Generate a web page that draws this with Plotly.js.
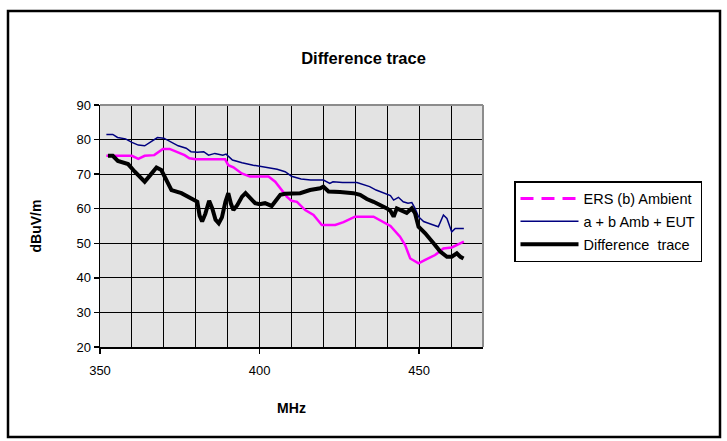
<!DOCTYPE html>
<html><head><meta charset="utf-8">
<script src="https://cdn.plot.ly/plotly-3.0.1.min.js"></script>
<style>html,body{margin:0;padding:0;background:#fff}#chart{width:727px;height:441px}</style>
</head><body><div id="chart"></div>
<script>
// Series 1: ERS (b) Ambient
const ersX = [352, 360, 362, 364, 367, 369.7, 371.8, 374.5, 376.5, 378, 380, 389.2, 390.2, 391.8, 394.4, 397, 402.8, 404.9, 407, 408.5, 410, 411.7, 414.3, 416.9, 419.5, 423.7, 426.3, 429.9, 435.7, 438.3, 441, 444, 445.6, 447.2, 449.8, 451.9, 455, 457.6, 460.2, 464];
const ersY = [75.3, 75.3, 74.4, 75.3, 75.5, 77.3, 77.3, 76.3, 75.5, 74.6, 74.3, 74.3, 72.6, 72, 70.2, 69.3, 69.3, 67.8, 65.4, 63.5, 62.3, 62, 59.6, 58.2, 55.3, 55.3, 56.1, 57.7, 57.7, 56.4, 55, 51.9, 49.5, 45.6, 44.2, 45.2, 46.6, 48.5, 48.8, 50.5];

// Series 2: a + b Amb + EUT
const ambX = [352, 354, 355.5, 358, 360, 362, 364, 366, 368, 370, 372, 374.5, 377, 378.5, 380.5, 382.5, 384, 386, 388.5, 389.5, 391.5, 394.5, 398, 401.5, 405.5, 408, 410, 413, 416, 420, 422, 423, 426, 430.5, 432.5, 434.5, 436.5, 438.8, 441, 442, 443.5, 445, 446.5, 447.7, 448.7, 449.8, 451.4, 452.9, 455, 456, 457.6, 458.7, 460.2, 461.3, 464];
const ambY = [81.5, 81.5, 80.6, 80.2, 79.2, 78.4, 78.2, 79.4, 80.6, 80.4, 79.4, 78.2, 77.5, 76.5, 76.3, 76.5, 75.5, 76, 75.5, 75.8, 74.1, 73.3, 72.6, 72, 71.4, 70.7, 69.4, 68.6, 68.3, 68.3, 67.3, 67.8, 67.6, 67.6, 66.9, 66.4, 65.4, 64.6, 63.8, 62.5, 63.3, 62, 61.6, 61.8, 60.1, 57.7, 56.3, 55.8, 55, 54.8, 58.2, 57.2, 53.3, 54.3, 54.3];

// Series 3: Difference trace
const difX = [352.5, 354, 355.6, 357.2, 358.8, 360.9, 362.5, 364, 366, 367.7, 369.2, 370.8, 372.4, 375.5, 379.2, 380.5, 381.2, 382, 383, 384.2, 385.2, 386.2, 387.2, 388.2, 389.3, 390.2, 391, 391.8, 393, 394.5, 395.6, 397, 398.6, 400, 401.7, 403.8, 405.2, 406.5, 408, 411, 412.7, 415.8, 419, 420, 421.6, 425.2, 429.4, 431.5, 433.6, 435.7, 437.8, 439.9, 441, 442, 443, 444.5, 446.1, 447.7, 448.7, 449.8, 451.9, 454.5, 456.6, 458.7, 460.2, 461.8, 462.9, 463.9];
const difY = [75.3, 75.3, 73.8, 73.4, 72.9, 70.7, 69.3, 67.8, 70, 71.9, 71.2, 68.3, 65.4, 64.5, 62.5, 62, 58, 56.3, 58.5, 62.3, 60, 56.8, 55.8, 57.5, 62, 64.5, 61.5, 59.6, 61, 63.5, 64.5, 63, 61.6, 61.3, 61.6, 60.8, 62.5, 64, 64.3, 64.5, 64.5, 65.4, 65.9, 66.4, 65, 64.8, 64.5, 64, 62.8, 62, 61.1, 60.1, 59.4, 57.7, 60.1, 59.6, 58.8, 60.1, 58.7, 54.8, 52.9, 50, 47.6, 46.1, 46.1, 47.1, 46.1, 45.6];

const names = ['ERS (b) Ambient', 'a + b Amb + EUT', 'Difference \u00a0trace'];
const xTitle = 'MHz';
const yTitle = 'dBuV/m';
const chartTitle = 'Difference trace';

const traces = [
  {x: ersX, y: ersY, mode: 'lines', line: {color: '#ff00ff', width: 2.5}, showlegend: false, legendgroup: 'a', hoverinfo: 'skip'},
  {x: [null], y: [null], mode: 'lines', name: names[0], line: {color: '#ff00ff', width: 3, dash: '13px,8px'}, legendgroup: 'a'},
  {x: ambX, y: ambY, mode: 'lines', name: names[1], line: {color: '#000080', width: 1.5}, legendgroup: 'b'},
  {x: difX, y: difY, mode: 'lines', name: names[2], line: {color: '#000000', width: 4}, legendgroup: 'c'}
];

const L = 100, R = 483, T = 105, B = 347;
const pw = R - L, ph = B - T;
const px = v => (v - L) / pw;
const py = v => (B - v) / ph;

const layout = {
  width: 727, height: 441,
  margin: {l: L, r: 727 - R, t: T, b: 441 - B, pad: 0},
  paper_bgcolor: '#ffffff',
  plot_bgcolor: '#e3e3e3',
  font: {family: '"Liberation Sans", Arial, sans-serif', size: 13, color: '#000'},
  title: {text: '<b>' + chartTitle + '</b>', font: {size: 16.5, color: '#000'}, xref: 'container', x: 0.5, xanchor: 'center', yref: 'container', y: 1 - 58 / 441, yanchor: 'middle'},
  xaxis: {
    range: [350, 470], tick0: 350, dtick: 50,
    showgrid: true, gridcolor: '#000', gridwidth: 1,
    minor: {tick0: 350, dtick: 10, showgrid: true, gridcolor: '#000', gridwidth: 1},
    showline: true, linecolor: '#000', linewidth: 1.5,
    ticks: 'outside', ticklen: 5, tickcolor: '#000', tickwidth: 1.5,
    zeroline: false, ticklabelstandoff: 6,
    title: {text: '<b>' + xTitle + '</b>', font: {size: 14}, standoff: 26}
  },
  yaxis: {
    range: [20, 90], tick0: 20, dtick: 10,
    showgrid: true, gridcolor: '#000', gridwidth: 1,
    showline: true, linecolor: '#000', linewidth: 1.5,
    ticks: 'outside', ticklen: 5, tickcolor: '#000', tickwidth: 1.5,
    zeroline: false,
    title: {text: '<b>' + yTitle + '</b>', font: {size: 14}, standoff: 31}
  },
  legend: {
    x: px(514), xanchor: 'left', y: py(181), yanchor: 'top',
    bordercolor: '#000', borderwidth: 1.5, bgcolor: '#fff',
    font: {size: 14.5, color: '#000'}, itemwidth: 58,
    traceorder: 'grouped', tracegroupgap: 1
  },
  shapes: [
    {type: 'line', xref: 'paper', yref: 'paper', x0: 0, x1: 1, y0: 1, y1: 1, line: {color: '#8c8c8c', width: 2}, layer: 'above'},
    {type: 'line', xref: 'paper', yref: 'paper', x0: 1, x1: 1, y0: 0, y1: 1, line: {color: '#8c8c8c', width: 2}, layer: 'above'},
    {type: 'rect', xref: 'paper', yref: 'paper', x0: px(8), x1: px(720), y0: py(11), y1: py(437), line: {color: '#000', width: 2.5}, fillcolor: 'rgba(0,0,0,0)'}
  ],
  showlegend: true
};

Plotly.newPlot('chart', traces, layout, {displayModeBar: false, staticPlot: true});
</script>
</body></html>
